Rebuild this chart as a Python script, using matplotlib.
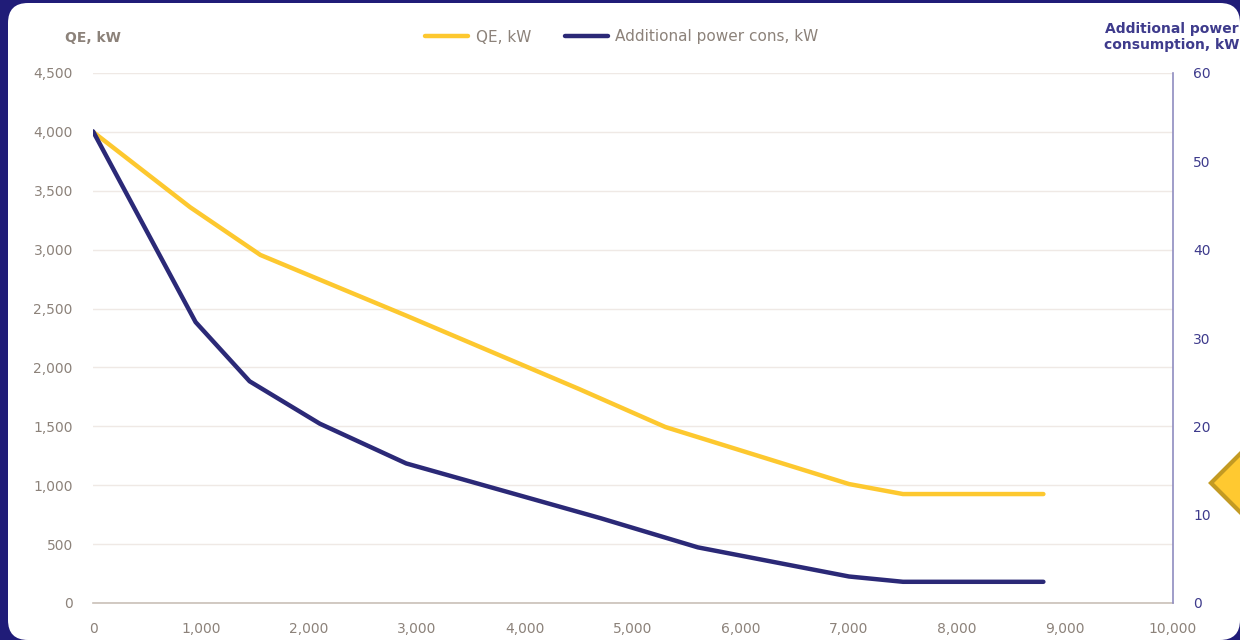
import matplotlib
matplotlib.use("Agg")
import matplotlib.pyplot as plt
from matplotlib.patches import FancyBboxPatch, Polygon
from matplotlib.ticker import FuncFormatter

plt.rcParams['font.family'] = ['DejaVu Sans']

# Data
qe_x = [0, 900, 1550, 2900, 4500, 5300, 7000, 7500, 8800]
qe_kw = [4000, 3360, 2955, 2440, 1817, 1494, 1010, 925, 925]
pw_x = [0, 950, 1450, 2100, 2900, 4700, 5600, 7000, 7500, 8800]
pw_kw = [53.4, 31.8, 25.1, 20.3, 15.8, 9.6, 6.3, 3.0, 2.4, 2.4]

x_ticks = list(range(0, 10001, 1000))
left_ticks = list(range(0, 4501, 500))
right_ticks = list(range(0, 61, 10))

NAVY_BG = '#201c78'
YELLOW = '#fdc82f'
NAVY = '#2b2977'
GRAY = '#8c827a'
RIGHT_TXT = '#3e3b8c'

W, H = 1240, 640
fig = plt.figure(figsize=(W / 100, H / 100), dpi=100)
fig.patch.set_facecolor(NAVY_BG)

# white rounded panel (in inches: 100 px per inch)
panel = FancyBboxPatch((0.08, 0.0), (W - 8) / 100, (H - 3) / 100,
                       boxstyle="round,pad=0,rounding_size=0.2",
                       transform=fig.dpi_scale_trans, facecolor='white',
                       edgecolor='none', zorder=-3)
fig.patches.append(panel)

# decorative diamond on right edge
cx, cy, r = 1242, 483, 31
diamond = Polygon([((cx - r) / W, (H - cy) / H), (cx / W, (H - cy + r) / H),
                   ((cx + r) / W, (H - cy) / H), (cx / W, (H - cy - r) / H)],
                  closed=True, transform=fig.transFigure, facecolor='#ffc930',
                  edgecolor='#c39a22', linewidth=3, zorder=-2)
fig.patches.append(diamond)

ax = fig.add_axes([93 / W, (H - 603) / H, (1173 - 93) / W, (603 - 73) / H])
ax.set_facecolor('none')
ax.set_xlim(0, 10000)
ax.set_ylim(0, 4500)
ax.set_xticks(x_ticks)
ax.set_yticks(left_ticks)
fmt = FuncFormatter(lambda v, p: f"{int(v):,}")
ax.xaxis.set_major_formatter(fmt)
ax.yaxis.set_major_formatter(fmt)
ax.grid(axis='y', color='#efe9e5', linewidth=1)
ax.set_axisbelow(True)
for s in ['top', 'left', 'right']:
    ax.spines[s].set_visible(False)
ax.spines['bottom'].set_color('#c9c0b8')
ax.spines['bottom'].set_linewidth(1.2)
ax.tick_params(axis='both', length=0, colors=GRAY, labelsize=10)
ax.tick_params(axis='x', pad=14)
ax.tick_params(axis='y', pad=14.5)

ax2 = ax.twinx()
ax2.set_ylim(0, 60)
ax2.set_yticks(right_ticks)
for s in ['top', 'left', 'bottom']:
    ax2.spines[s].set_visible(False)
ax2.spines['right'].set_color('#8f8cc0')
ax2.spines['right'].set_linewidth(1.2)
ax2.tick_params(axis='y', length=0, colors=RIGHT_TXT, labelsize=10, pad=14.5)

l1, = ax.plot(qe_x, qe_kw, color=YELLOW, linewidth=3.2, solid_capstyle='round',
              solid_joinstyle='round', zorder=3, label='QE, kW')
l2, = ax2.plot(pw_x, pw_kw, color=NAVY, linewidth=3.2, solid_capstyle='round',
               solid_joinstyle='round', zorder=3, label='Additional power cons, kW')

fig.text(65 / W, (H - 38) / H, 'QE, kW', color=GRAY, fontsize=10,
         fontweight='bold', ha='left', va='center')
fig.text(1239 / W, (H - 37) / H, 'Additional power\nconsumption, kW', color=RIGHT_TXT,
         fontsize=10, fontweight='bold', ha='right', va='center', linespacing=1.15)

leg = fig.legend([l1, l2], ['QE, kW', 'Additional power cons, kW'],
                 loc='center', bbox_to_anchor=(622 / W, (H - 37) / H), ncol=2,
                 frameon=False, fontsize=11, handlelength=2.8, handletextpad=0.5,
                 columnspacing=2.2, labelcolor=GRAY)

fig.savefig('out.png', dpi=100, facecolor=fig.get_facecolor())
